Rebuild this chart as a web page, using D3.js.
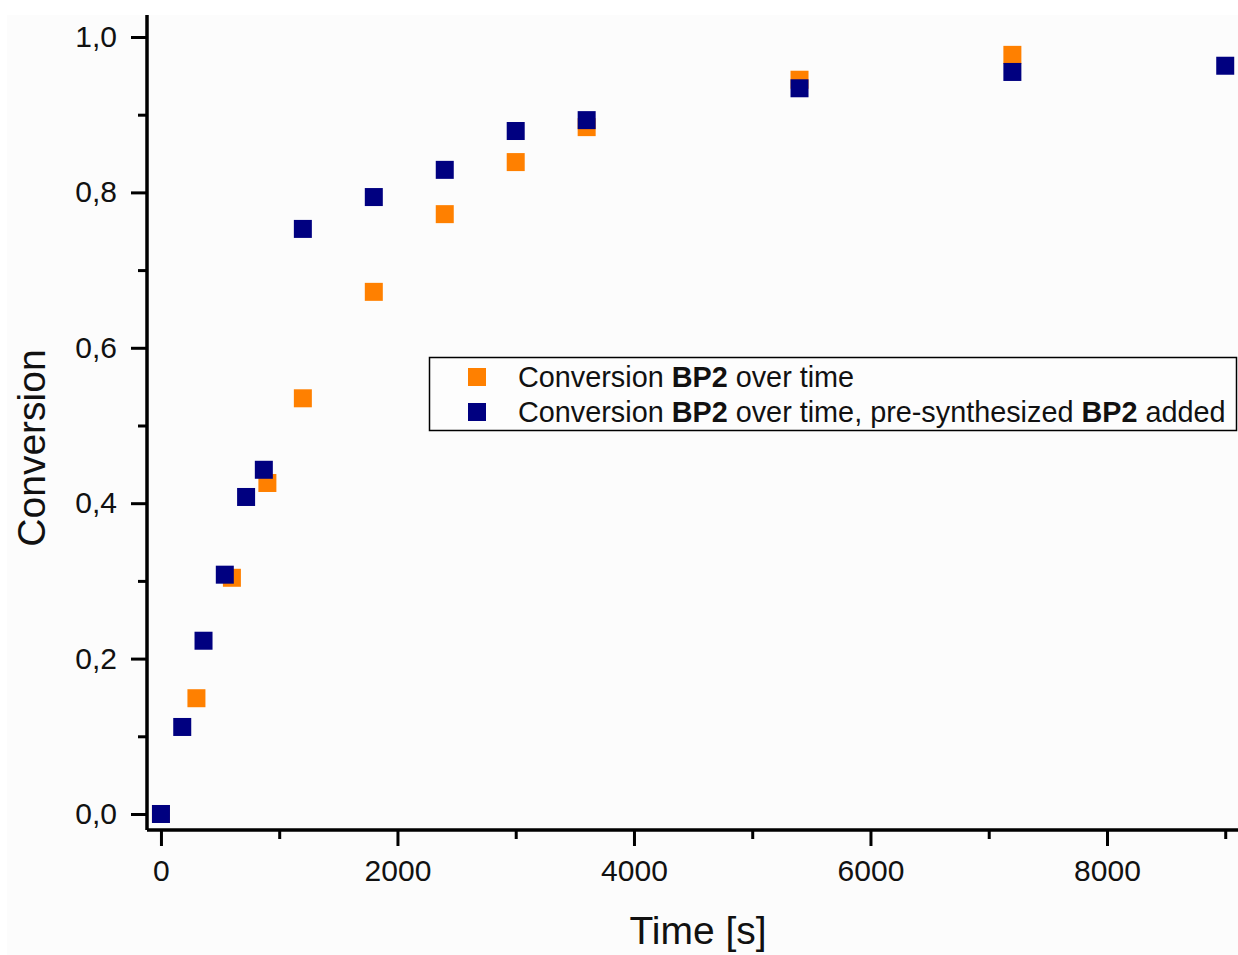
<!DOCTYPE html>
<html>
<head>
<meta charset="utf-8">
<script src="https://cdn.jsdelivr.net/npm/d3@7"></script>
<style>
  html, body { margin: 0; padding: 0; background: #ffffff; }
  svg { display: block; font-family: "Liberation Sans", Arial, sans-serif; }
</style>
</head>
<body>
<svg id="chart" width="1238" height="955"></svg>
<script>
// ---- data ----
const timesA = [0, 300, 600, 900, 1200, 1800, 2400, 3000, 3600, 5400, 7200];
const convA  = [0, 0.149, 0.304, 0.426, 0.535, 0.672, 0.772, 0.839, 0.884, 0.945, 0.977];
const timesB = [0, 180, 360, 540, 720, 870, 1200, 1800, 2400, 3000, 3600, 5400, 7200, 9000];
const convB  = [0, 0.112, 0.223, 0.308, 0.408, 0.443, 0.753, 0.794, 0.829, 0.879, 0.893, 0.934, 0.955, 0.963];
const xTicks = [0, 2000, 4000, 6000, 8000];
const xMinor = [1000, 3000, 5000, 7000, 9000];
const yTicks = [0, 0.2, 0.4, 0.6, 0.8, 1.0];
const yMinor = [0.1, 0.3, 0.5, 0.7, 0.9];
const seriesNames = ["Conversion BP2 over time", "Conversion BP2 over time, pre-synthesized BP2 added"];
const colors = ["#ff8000", "#000080"];

(function () {
const svg = d3.select("#chart");
const W = 1238, H = 955;
const mLeft = 147, mRight = 1238, mTop = 15, mBottom = 830;

svg.append("rect").attr("x", 7).attr("y", 15).attr("width", W - 7).attr("height", H - 15).attr("fill", "#fcfcfc");

const x = d3.scaleLinear().domain([-118, 9108]).range([mLeft, mRight]);
const y = d3.scaleLinear().domain([-0.0206, 1.0283]).range([mBottom, mTop]);

const fmt = d => d3.format(".1f")(d).replace(".", ",");

const gx = svg.append("g").attr("transform", `translate(0,${mBottom})`);
gx.call(d3.axisBottom(x).tickValues(xTicks).tickSize(16).tickPadding(14).tickFormat(d3.format("d")));
const gxm = svg.append("g").attr("transform", `translate(0,${mBottom})`);
gxm.call(d3.axisBottom(x).tickValues(xMinor).tickSize(9).tickFormat(""));

const gy = svg.append("g").attr("transform", `translate(${mLeft},0)`);
gy.call(d3.axisLeft(y).tickValues(yTicks).tickSize(16).tickPadding(14).tickFormat(fmt));
const gym = svg.append("g").attr("transform", `translate(${mLeft},0)`);
gym.call(d3.axisLeft(y).tickValues(yMinor).tickSize(9).tickFormat(""));

[gx, gxm, gy, gym].forEach(g => {
  g.select(".domain").attr("stroke", "#000").attr("stroke-width", 3);
  g.selectAll(".tick line").attr("stroke", "#000").attr("stroke-width", 3);
  g.selectAll(".tick text").attr("fill", "#111").attr("font-size", 30).attr("font-family", "Liberation Sans, Arial, sans-serif");
});
gx.select(".domain").attr("d", `M${mLeft},0H${mRight}`);
gxm.select(".domain").attr("d", `M${mLeft},0H${mRight}`);
gy.select(".domain").attr("d", `M0,${mBottom}V${mTop}`);
gym.select(".domain").attr("d", `M0,${mBottom}V${mTop}`);

svg.append("text").attr("x", 698).attr("y", 944).attr("text-anchor", "middle")
  .attr("font-size", 39).attr("fill", "#111").text("Time [s]");
svg.append("text").attr("transform", "translate(45,448) rotate(-90)").attr("text-anchor", "middle")
  .attr("font-size", 39).attr("fill", "#111").text("Conversion");

const S = 18;
const dataA = timesA.map((t, i) => ({t, v: convA[i]}));
const dataB = timesB.map((t, i) => ({t, v: convB[i]}));
[dataA, dataB].forEach((data, si) => {
  svg.append("g").selectAll("rect").data(data).join("rect")
    .attr("x", d => x(d.t) - S / 2).attr("y", d => y(d.v) - S / 2)
    .attr("width", S).attr("height", S).attr("fill", colors[si]);
});

const lg = svg.append("g");
lg.append("rect").attr("x", 429.5).attr("y", 357.5).attr("width", 807).attr("height", 73)
  .attr("fill", "#fdfdfd").attr("stroke", "#000").attr("stroke-width", 1.5);
seriesNames.forEach((name, i) => {
  const cy = 377 + i * 35;
  lg.append("rect").attr("x", 477 - 9).attr("y", cy - 9).attr("width", 18).attr("height", 18).attr("fill", colors[i]);
  const t = lg.append("text").attr("x", 518).attr("y", cy + 10).attr("font-size", 28.8).attr("fill", "#111");
  name.split(/(BP2)/).forEach(p => {
    if (!p) return;
    t.append("tspan").attr("font-weight", p === "BP2" ? "bold" : "normal").text(p);
  });
});
})();
</script>
</body>
</html>
